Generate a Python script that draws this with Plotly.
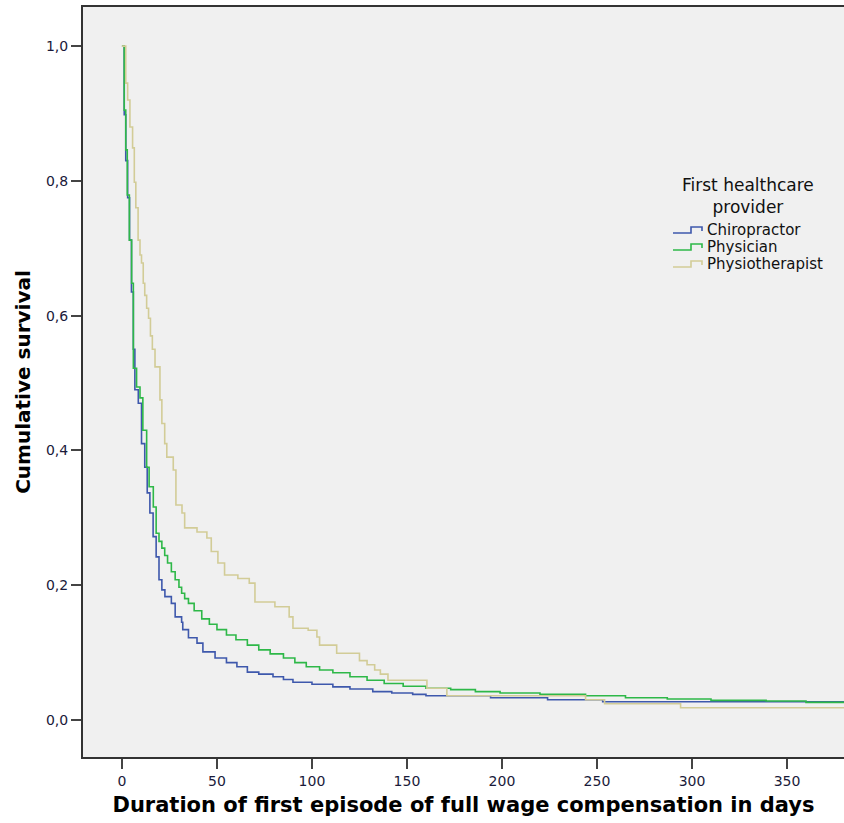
import plotly.graph_objects as go

# Kaplan-Meier step points (day, cumulative survival)
chiro_days = [0, 1.2, 2, 3, 4, 5, 6, 6.8, 8.6, 10.3, 12, 13.3, 14.7, 16.4, 18, 19.5, 21, 22.6, 26, 28,
              31.4, 32, 35, 39.5, 42.6, 49, 55, 60.5, 66, 72, 79.5, 85, 90, 100, 111, 120, 132, 142, 153,
              160, 194, 224, 253, 380]
chiro_surv = [1.0, 0.898, 0.83, 0.775, 0.712, 0.635, 0.55, 0.49, 0.47, 0.41, 0.375, 0.337, 0.307, 0.272, 0.242,
              0.208, 0.193, 0.183, 0.173, 0.153, 0.145, 0.134, 0.122, 0.114, 0.101, 0.092, 0.085, 0.079, 0.071,
              0.068, 0.064, 0.060, 0.056, 0.053, 0.049, 0.046, 0.042, 0.040, 0.038, 0.036, 0.033, 0.030,
              0.027, 0.026]

phys_days = [0, 1.2, 2, 2.8, 3.9, 5.1, 6, 7.7, 9.5, 11, 13, 14.3, 16.5, 18, 19.5, 21, 22.5, 24, 26, 28, 30,
             31.4, 33, 35, 38, 42, 46, 50, 55, 60, 66, 72, 78, 85, 91, 97, 104, 111, 120, 129, 138, 148,
             160, 173, 186, 199, 220, 244, 265, 287, 310, 339, 360, 380]
phys_surv = [1.0, 0.905, 0.846, 0.779, 0.712, 0.648, 0.522, 0.494, 0.478, 0.43, 0.375, 0.346, 0.316, 0.277,
             0.265, 0.255, 0.244, 0.233, 0.220, 0.208, 0.197, 0.188, 0.180, 0.173, 0.162, 0.150, 0.142,
             0.134, 0.126, 0.119, 0.111, 0.104, 0.098, 0.092, 0.085, 0.079, 0.074, 0.070, 0.064, 0.059,
             0.054, 0.050, 0.047, 0.045, 0.042, 0.040, 0.038, 0.036, 0.033, 0.031, 0.029, 0.028, 0.026,
             0.025]

physio_days = [0, 2, 3, 4.2, 5.6, 6.5, 7.3, 8.5, 9.5, 10.3, 11.2, 12, 13, 14, 15, 16, 17.4, 20, 21, 22.5,
               23.6, 27, 28.4, 31.6, 33, 39.5, 44.7, 47, 50.5, 54, 61, 67, 70, 80.5, 88, 90, 98, 102.6, 104,
               113, 125, 129, 133, 136, 140, 160.5, 171, 244, 254, 294, 380]
physio_surv = [1.0, 0.945, 0.92, 0.88, 0.849, 0.798, 0.76, 0.712, 0.69, 0.678, 0.648, 0.63, 0.611, 0.596,
               0.57, 0.55, 0.524, 0.475, 0.44, 0.41, 0.39, 0.371, 0.319, 0.307, 0.285, 0.279, 0.27, 0.25,
               0.233, 0.215, 0.21, 0.203, 0.175, 0.168, 0.153, 0.136, 0.133, 0.123, 0.111, 0.099, 0.088,
               0.082, 0.074, 0.068, 0.059, 0.047, 0.036, 0.030, 0.024, 0.018, 0.018]

series_names = ["Chiropractor", "Physician", "Physiotherapist"]
series_colors = ["#3E58AC", "#2EB848", "#D2CC97"]
x_ticks = [0, 50, 100, 150, 200, 250, 300, 350]
y_ticks = [0.0, 0.2, 0.4, 0.6, 0.8, 1.0]
legend_title = "First healthcare<br>provider"

FONT = "DejaVu Sans"
W, H = 844, 823
L, R, T, B = 83, 0, 7, 66
PW, PH = W - L - R, H - T - B


def px(x):  # pixel x -> paper x
    return (x - L) / PW


def py(y):  # pixel y -> paper y
    return (H - B - y) / PH


fig = go.Figure()
for name, xs, ys, col in zip(series_names,
                             [chiro_days, phys_days, physio_days],
                             [chiro_surv, phys_surv, physio_surv],
                             series_colors):
    fig.add_trace(go.Scatter(x=xs, y=ys, mode="lines", name=name, showlegend=False,
                             line=dict(color=col, width=1.6, shape="hv")))

# Legend drawn as text + step-shaped keys
annotations = [dict(text=legend_title, x=px(748), y=py(196), xref="paper", yref="paper",
                    xanchor="center", yanchor="middle", align="center", showarrow=False,
                    font=dict(family=FONT, size=17, color="#111111"))]
shapes = []
for i, (name, col) in enumerate(zip(series_names, series_colors)):
    yc = 230 + 17 * i
    annotations.append(dict(text=name, x=px(705), y=py(yc), xref="paper", yref="paper",
                            xanchor="left", yanchor="middle", showarrow=False,
                            font=dict(family=FONT, size=15, color="#111111")))
    path = "M {:.5f},{:.5f} L {:.5f},{:.5f} L {:.5f},{:.5f} L {:.5f},{:.5f} L {:.5f},{:.5f}".format(
        px(673), py(yc + 3), px(691), py(yc + 3), px(691), py(yc - 3), px(702), py(yc - 3),
        px(702), py(yc + 1))
    shapes.append(dict(type="path", path=path, xref="paper", yref="paper",
                       line=dict(color=col, width=1.6)))

fig.update_layout(
    width=W, height=H,
    margin=dict(l=L, r=R, t=T, b=B),
    paper_bgcolor="white", plot_bgcolor="#F0F0F0",
    separators=",.",
    showlegend=False,
    annotations=annotations,
    shapes=shapes,
    xaxis=dict(
        range=[-20.5, 380], tickvals=x_ticks, ticks="outside", ticklen=10, tickwidth=2,
        tickcolor="#444444", showline=True, linecolor="#333333", linewidth=2, mirror=True,
        showgrid=False, zeroline=False, automargin=False,
        tickfont=dict(family=FONT, size=14, color="#1a1a3a"),
        title=dict(text="<b>Duration of first episode of full wage compensation in days</b>",
                   font=dict(family=FONT, size=21, color="black"), standoff=10),
    ),
    yaxis=dict(
        range=[-0.055, 1.058], tickvals=y_ticks, tickformat=".1f", ticks="outside", ticklen=10,
        tickwidth=2, tickcolor="#444444", showline=True, linecolor="#333333", linewidth=2,
        showgrid=False, zeroline=False, automargin=False,
        tickfont=dict(family=FONT, size=14, color="#1a1a3a"),
        title=dict(text="<b>Cumulative survival</b>",
                   font=dict(family=FONT, size=20, color="black"), standoff=10),
    ),
)

fig.write_html("out.html", config={"responsive": False, "displayModeBar": False},
               post_script="document.body.style.margin='0px';document.body.style.overflow='hidden';")
